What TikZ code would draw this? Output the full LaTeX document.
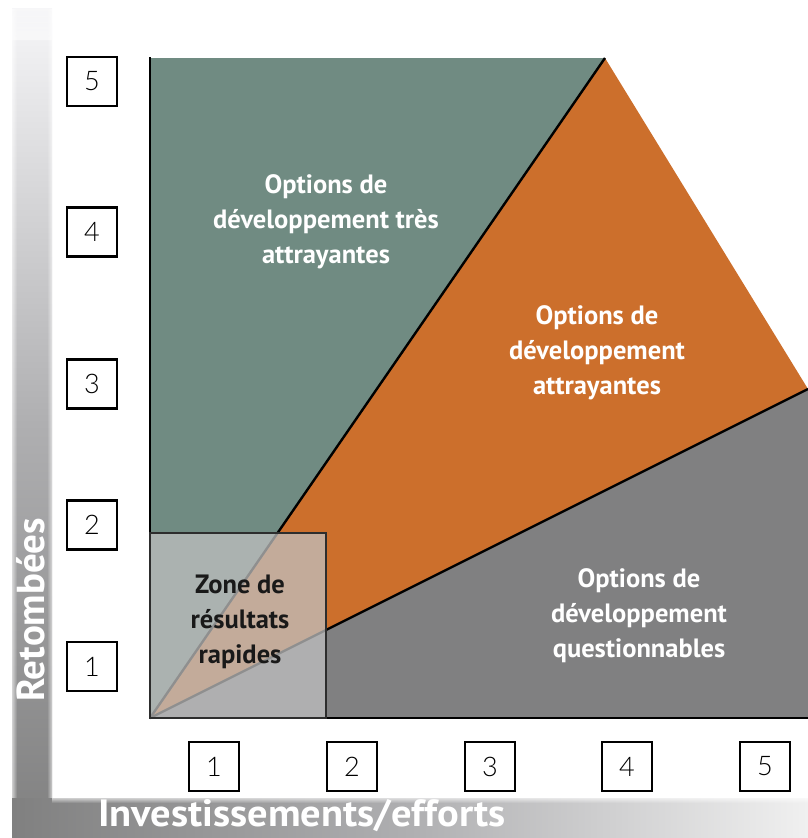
\documentclass[tikz,border=0pt]{standalone}
\usepackage{fontspec}
\setmainfont{PT Sans}
\newfontfamily\numfont{Lato Light}
\usetikzlibrary{fadings}
\definecolor{cgreen}{RGB}{112,139,130}
\definecolor{corange}{RGB}{204,111,44}
\definecolor{cgray}{RGB}{128,128,129}
\definecolor{cbox}{RGB}{192,192,192}
\definecolor{cboxline}{RGB}{45,45,45}
\definecolor{barlight}{RGB}{246,246,248}
\definecolor{barmid}{RGB}{175,175,177}
\definecolor{bardark}{RGB}{128,128,128}
\definecolor{barright}{RGB}{240,240,240}
\tikzset{
  numbox/.style={draw=black, line width=2.2pt, fill=white, minimum width=50pt, minimum height=49pt, inner sep=0pt, font=\numfont\fontsize{27}{27}\selectfont},
  zonelabel/.style={align=center, text=white, font=\bfseries\fontsize{26.5}{35}\selectfont},
  axislabel/.style={text=white, font=\bfseries\fontsize{39}{39}\selectfont, inner sep=0pt},
  divline/.style={line width=2.4pt, black},
}
\begin{document}
\begin{tikzpicture}[x=1pt,y=-1pt]
\useasboundingbox (0,0) rectangle (808,838);
\clip (0,0) rectangle (808,838);
% axis bars
\shade[top color=barlight, bottom color=bardark, middle color=barmid] (12,8) rectangle (52,838);
\shade[left color=bardark, right color=barright, middle color=barmid] (12,798) rectangle (808,838);
\fill[white, path fading=east, opacity=0.6] (12,8) rectangle (17,798);
\fill[white, path fading=west, opacity=0.6] (47,8) rectangle (52,798);
\fill[white, path fading=south, opacity=0.6] (52,798) rectangle (808,803);
\fill[white, path fading=north, opacity=0.5] (12,0) rectangle (52,40);
% regions
\coordinate (O) at (150,718);
\coordinate (TL) at (150,58);
\coordinate (TA) at (605,58);
\coordinate (RV) at (808,389);
\coordinate (BR) at (808,718);
\fill[cgreen] (O) -- (TL) -- (TA) -- cycle;
\fill[corange] (O) -- (TA) -- (RV) -- cycle;
\fill[cgray] (O) -- (RV) -- (BR) -- cycle;
\draw[divline] (O) -- (TA);
\draw[divline] (O) -- (RV);
\draw[line width=2.6pt] (150,57) -- (O) -- (BR);
% quick-win box
\fill[cbox, opacity=0.75] (150,533) rectangle (326,718);
\draw[cboxline, line width=2pt] (150,533) rectangle (326,718);
% zone labels
\node[zonelabel] (g) at (326,222) {Options de\\développement très\\attrayantes};
\node[zonelabel] (o) at (597,353) {Options de\\développement\\attrayantes};
\node[zonelabel] (q) at (639,616) {Options de\\développement\\questionnables};
\node[zonelabel, text=black!90] (z) at (240,622) {Zone de\\résultats\\rapides};
% y numbers
\node[numbox] (y5) at (92,81.5) {5};
\node[numbox] (y4) at (92,232) {4};
\node[numbox] (y3) at (92,384) {3};
\node[numbox] (y2) at (92,525) {2};
\node[numbox] (y1) at (92,666.5) {1};
% x numbers
\node[numbox] (x1) at (214,766.5) {1};
\node[numbox] (x2) at (352,766.5) {2};
\node[numbox] (x3) at (490,766.5) {3};
\node[numbox] (x4) at (627,766.5) {4};
\node[numbox] (x5) at (765,766.5) {5};
% axis titles
\node[axislabel, anchor=base west, font=\bfseries\fontsize{38}{38}\selectfont] (xt) at (98,826) {\scalebox{1.065}[1]{Investissements/efforts}};
\node[axislabel, anchor=base west, rotate=90] (yt) at (44,702) {Retombées};
\end{tikzpicture}
\end{document}
